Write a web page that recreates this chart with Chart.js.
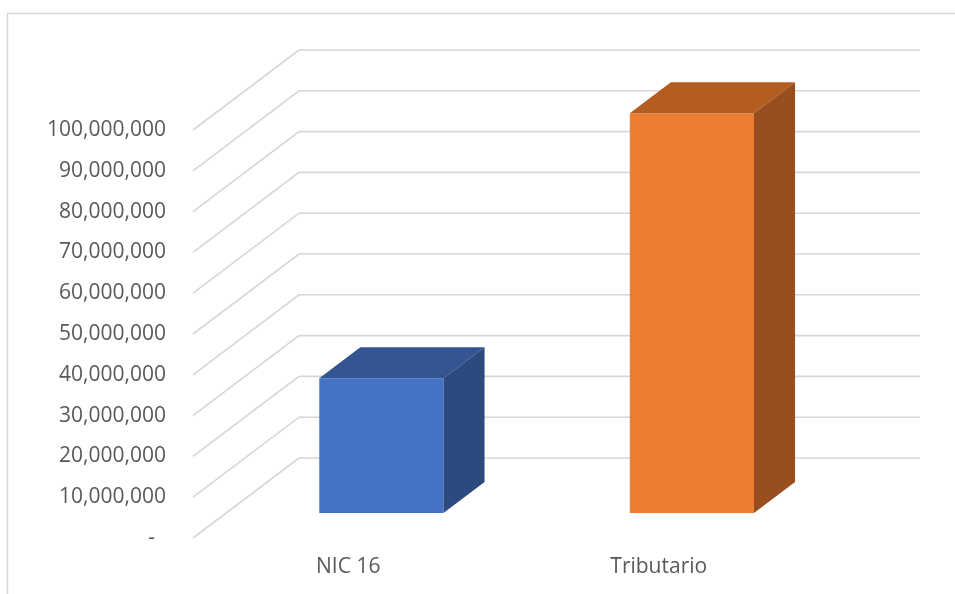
<!DOCTYPE html>
<html>
<head>
<meta charset="utf-8">
<script src="https://cdn.jsdelivr.net/npm/chart.js@4"></script>
<style>
  body { margin: 0; background: #fff; }
</style>
</head>
<body>
<canvas id="myChart" width="955" height="594"></canvas>
<script>
const categories = ['NIC 16', 'Tributario'];
const values = [33000000, 98000000];
const frontColors = ['#4472C4', '#ED7D31'];
const topColors = ['#335592', '#B45D22'];
const sideColors = ['#2B4A7E', '#984E1E'];
const tickValues = [0, 10000000, 20000000, 30000000, 40000000, 50000000,
    60000000, 70000000, 80000000, 90000000, 100000000];

// oblique 3D look: vector from front plane to back wall
const depth = { dx: 106, dy: -80, front: 0.3125, back: 0.7 };
const gridColor = '#d6d6d6';

const fakeThreeD = {
    id: 'fakeThreeD',
    beforeDraw(chart) {
        const ctx = chart.ctx;
        ctx.save();
        ctx.strokeStyle = gridColor;
        ctx.lineWidth = 1.5;
        ctx.strokeRect(7.5, 13.5, 1200, 1200);
        ctx.restore();
    },
    beforeDatasetsDraw(chart) {
        const ctx = chart.ctx;
        const area = chart.chartArea;
        const y = chart.scales.y;
        ctx.save();
        ctx.strokeStyle = gridColor;
        ctx.lineWidth = 1.6;
        tickValues.forEach(v => {
            const py = y.getPixelForValue(v);
            ctx.beginPath();
            ctx.moveTo(area.left, py);
            ctx.lineTo(area.left + depth.dx, py + depth.dy);
            ctx.lineTo(area.right + depth.dx, py + depth.dy);
            ctx.stroke();
        });
        ctx.restore();
        // front faces are drawn by Chart.js, pushed into the floor
        ctx.save();
        ctx.translate(depth.dx * depth.front, depth.dy * depth.front);
    },
    afterDatasetsDraw(chart) {
        const ctx = chart.ctx;
        ctx.restore();
        const ox = depth.dx * depth.front, oy = depth.dy * depth.front;
        const bx = depth.dx * (depth.back - depth.front);
        const by = depth.dy * (depth.back - depth.front);
        chart.getDatasetMeta(0).data.forEach((bar, i) => {
            const p = bar.getProps(['x', 'y', 'base', 'width'], true);
            const x1 = p.x - p.width / 2 + ox, x2 = p.x + p.width / 2 + ox;
            const yt = p.y + oy, yb = p.base + oy;
            ctx.fillStyle = topColors[i];
            ctx.beginPath();
            ctx.moveTo(x1, yt);
            ctx.lineTo(x2, yt);
            ctx.lineTo(x2 + bx, yt + by);
            ctx.lineTo(x1 + bx, yt + by);
            ctx.closePath();
            ctx.fill();
            ctx.fillStyle = sideColors[i];
            ctx.beginPath();
            ctx.moveTo(x2, yt);
            ctx.lineTo(x2 + bx, yt + by);
            ctx.lineTo(x2 + bx, yb + by);
            ctx.lineTo(x2, yb);
            ctx.closePath();
            ctx.fill();
        });
    }
};

Chart.defaults.font.family = '"Open Sans", sans-serif';
Chart.defaults.font.size = 21;
Chart.defaults.color = '#595959';

const data = {
    labels: categories,
    datasets: [{
        data: values,
        backgroundColor: frontColors,
        borderWidth: 0,
        categoryPercentage: 1,
        barPercentage: 0.4,
        clip: false
    }]
};

const config = {
    type: 'bar',
    data: data,
    options: {
        responsive: false,
        animation: false,
        layout: {
            padding: { top: 130, right: 141, left: 0, bottom: 0 }
        },
        plugins: {
            legend: { display: false },
            tooltip: { enabled: false }
        },
        scales: {
            x: {
                grid: { display: false, drawTicks: false },
                border: { display: false },
                ticks: { padding: 16 },
                afterFit: s => { s.height = 56; }
            },
            y: {
                min: 0,
                max: 100000000,
                grid: { display: false, drawTicks: false },
                border: { display: false },
                afterBuildTicks: s => { s.ticks = tickValues.map(v => ({ value: v })); },
                ticks: {
                    padding: 27,
                    callback: v => v === 0 ? '-  ' : v.toLocaleString('en-US')
                },
                afterFit: s => { s.width = 193; }
            }
        }
    },
    plugins: [fakeThreeD]
};

const ctx = document.getElementById('myChart');
const chart = new Chart(ctx, config);
</script>
</body>
</html>
